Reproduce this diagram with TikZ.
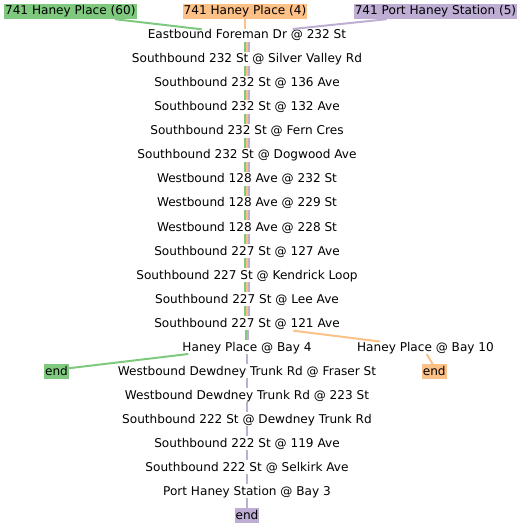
\documentclass[tikz,border=0pt]{standalone}
\usepackage{fontspec}
\setmainfont{DejaVu Sans}
\usetikzlibrary{calc}
\definecolor{cg}{HTML}{7FC97F}
\definecolor{co}{HTML}{FDC086}
\definecolor{cp}{HTML}{BEAED4}
\tikzset{
  txt/.style={font=\fontsize{12.1bp}{14bp}\selectfont},
  stop/.style={txt, inner sep=0pt, anchor=base},
  lab/.style={txt, inner xsep=1bp, inner ysep=1bp, text height=10bp, text depth=3bp, anchor=base},
  eg/.style={draw=cg, line width=2bp},
  eo/.style={draw=co, line width=2bp},
  ep/.style={draw=cp, line width=2bp},
}
\begin{document}
\begin{tikzpicture}[x=1bp,y=-1bp]
\useasboundingbox (0,0) rectangle (527,528);
% route labels
\node[lab, fill=cg] (l60) at (70.3,15) {741 Haney Place (60)};
\node[lab, fill=co] (l4) at (245,15) {741 Haney Place (4)};
\node[lab, fill=cp] (l5) at (435.5,15) {741 Port Haney Station (5)};
% stops
\foreach \k/\t in {
 1/{Eastbound Foreman Dr @ 232 St},
 2/{Southbound 232 St @ Silver Valley Rd},
 3/{Southbound 232 St @ 136 Ave},
 4/{Southbound 232 St @ 132 Ave},
 5/{Southbound 232 St @ Fern Cres},
 6/{Southbound 232 St @ Dogwood Ave},
 7/{Westbound 128 Ave @ 232 St},
 8/{Westbound 128 Ave @ 229 St},
 9/{Westbound 128 Ave @ 228 St},
 10/{Southbound 227 St @ 127 Ave},
 11/{Southbound 227 St @ Kendrick Loop},
 12/{Southbound 227 St @ Lee Ave},
 13/{Southbound 227 St @ 121 Ave},
 14/{Haney Place @ Bay 4},
 15/{Westbound Dewdney Trunk Rd @ Fraser St},
 16/{Westbound Dewdney Trunk Rd @ 223 St},
 17/{Southbound 222 St @ Dewdney Trunk Rd},
 18/{Southbound 222 St @ 119 Ave},
 19/{Southbound 222 St @ Selkirk Ave},
 20/{Port Haney Station @ Bay 3}}
 {\node[stop] (s\k) at (247,15+24*\k) {\t};}
\node[stop] (b10) at (425.5,351) {Haney Place @ Bay 10};
\node[lab, fill=cg] (eg) at (56.5,375) {end};
\node[lab, fill=co] (eo) at (434.2,375) {end};
\node[lab, fill=cp] (ep) at (247,519) {end};
\coordinate (s1n) at ([yshift=10bp]s1.base);
% top connectors
\draw[eg] ([xshift=44.7bp]l60.south) -- ([xshift=-45.3bp,yshift=9.7bp]s1.base);
\draw[eo] (l4.south) -- (l4.south |- s1n);
\draw[ep] ([xshift=-48.8bp]l5.south) -- ([xshift=45.7bp,yshift=10bp]s1.base);
% shared trunk
\foreach \k [evaluate=\k as \n using int(\k+1)] in {1,...,12} {
  \draw[eg] ([xshift=-2bp,yshift=-3bp]s\k.base) -- ([xshift=-2bp,yshift=11bp]s\n.base);
  \draw[eo] ([yshift=-3bp]s\k.base) -- ([yshift=11bp]s\n.base);
  \draw[ep] ([xshift=2bp,yshift=-3bp]s\k.base) -- ([xshift=2bp,yshift=11bp]s\n.base);
}
\draw[eg] ([xshift=-1bp,yshift=-3bp]s13.base) -- ([xshift=-1bp,yshift=11bp]s14.base);
\draw[ep] ([xshift=1bp,yshift=-3bp]s13.base) -- ([xshift=1bp,yshift=11bp]s14.base);
\draw[eo] ([xshift=46.3bp,yshift=-3.7bp]s13.base) -- ([xshift=-45.5bp,yshift=9.5bp]b10.base);
% branches to ends
\draw[eg] ([xshift=-58.7bp,yshift=-3bp]s14.base) -- ([xshift=11.8bp,yshift=6.7bp]eg.base);
\draw[eo] ([xshift=1.2bp,yshift=-3bp]b10.base) -- ([xshift=-1.5bp,yshift=10.7bp]eo.base);
\foreach \k [evaluate=\k as \n using int(\k+1)] in {14,...,19} {
  \draw[ep] ([yshift=-3bp]s\k.base) -- ([yshift=11bp]s\n.base);
}
\draw[ep] ([yshift=-3bp]s20.base) -- ([yshift=11bp]ep.base);
\end{tikzpicture}
\end{document}
